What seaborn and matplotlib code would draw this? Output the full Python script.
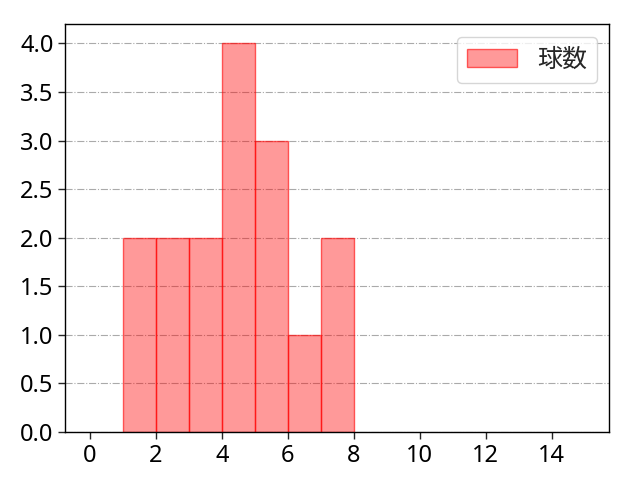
import matplotlib
matplotlib.use("Agg")
import matplotlib.pyplot as plt
import seaborn as sns
import pandas as pd

bin_edges = list(range(1, 9))
pitch_values = [1, 1, 2, 2, 3, 3, 4, 4, 4, 4, 5, 5, 5, 6, 7, 7]
series_label = "球数"

sns.set_style("white")
plt.rcParams['font.family'] = ['Noto Sans', 'Noto Sans CJK JP', 'DejaVu Sans']
plt.rcParams['font.size'] = 17

df = pd.DataFrame({"v": pitch_values})
fig, ax = plt.subplots(figsize=(6.4, 4.8), dpi=100)
fig.subplots_adjust(left=0.102, right=0.952, top=0.95, bottom=0.1)
sns.histplot(data=df, x="v", bins=bin_edges, stat="count", color="red", alpha=0.4,
             edgecolor=(1, 0, 0, 0.6), linewidth=1, label=series_label, ax=ax)
ax.set_xlim(-0.75, 15.75)
ax.set_ylim(0, 4.2)
ax.set_xticks([0, 2, 4, 6, 8, 10, 12, 14])
ax.set_yticks([0, 0.5, 1, 1.5, 2, 2.5, 3, 3.5, 4])
ax.set_yticklabels([f"{t:.1f}" for t in ax.get_yticks()])
ax.set_xlabel("")
ax.set_ylabel("")
ax.yaxis.grid(True, linestyle="-.", color="#aaaaaa", linewidth=0.8)
ax.set_axisbelow(True)
for s in ax.spines.values():
    s.set_color("black")
    s.set_linewidth(1)
ax.tick_params(axis="both", which="both", direction="out", length=5, width=1, left=True, bottom=True, labelsize=17, labelcolor="black")
leg = ax.legend(loc="upper right", prop={'family': ['Noto Sans CJK JP'], 'size': 18})
fig.savefig("out.png", dpi=100)
